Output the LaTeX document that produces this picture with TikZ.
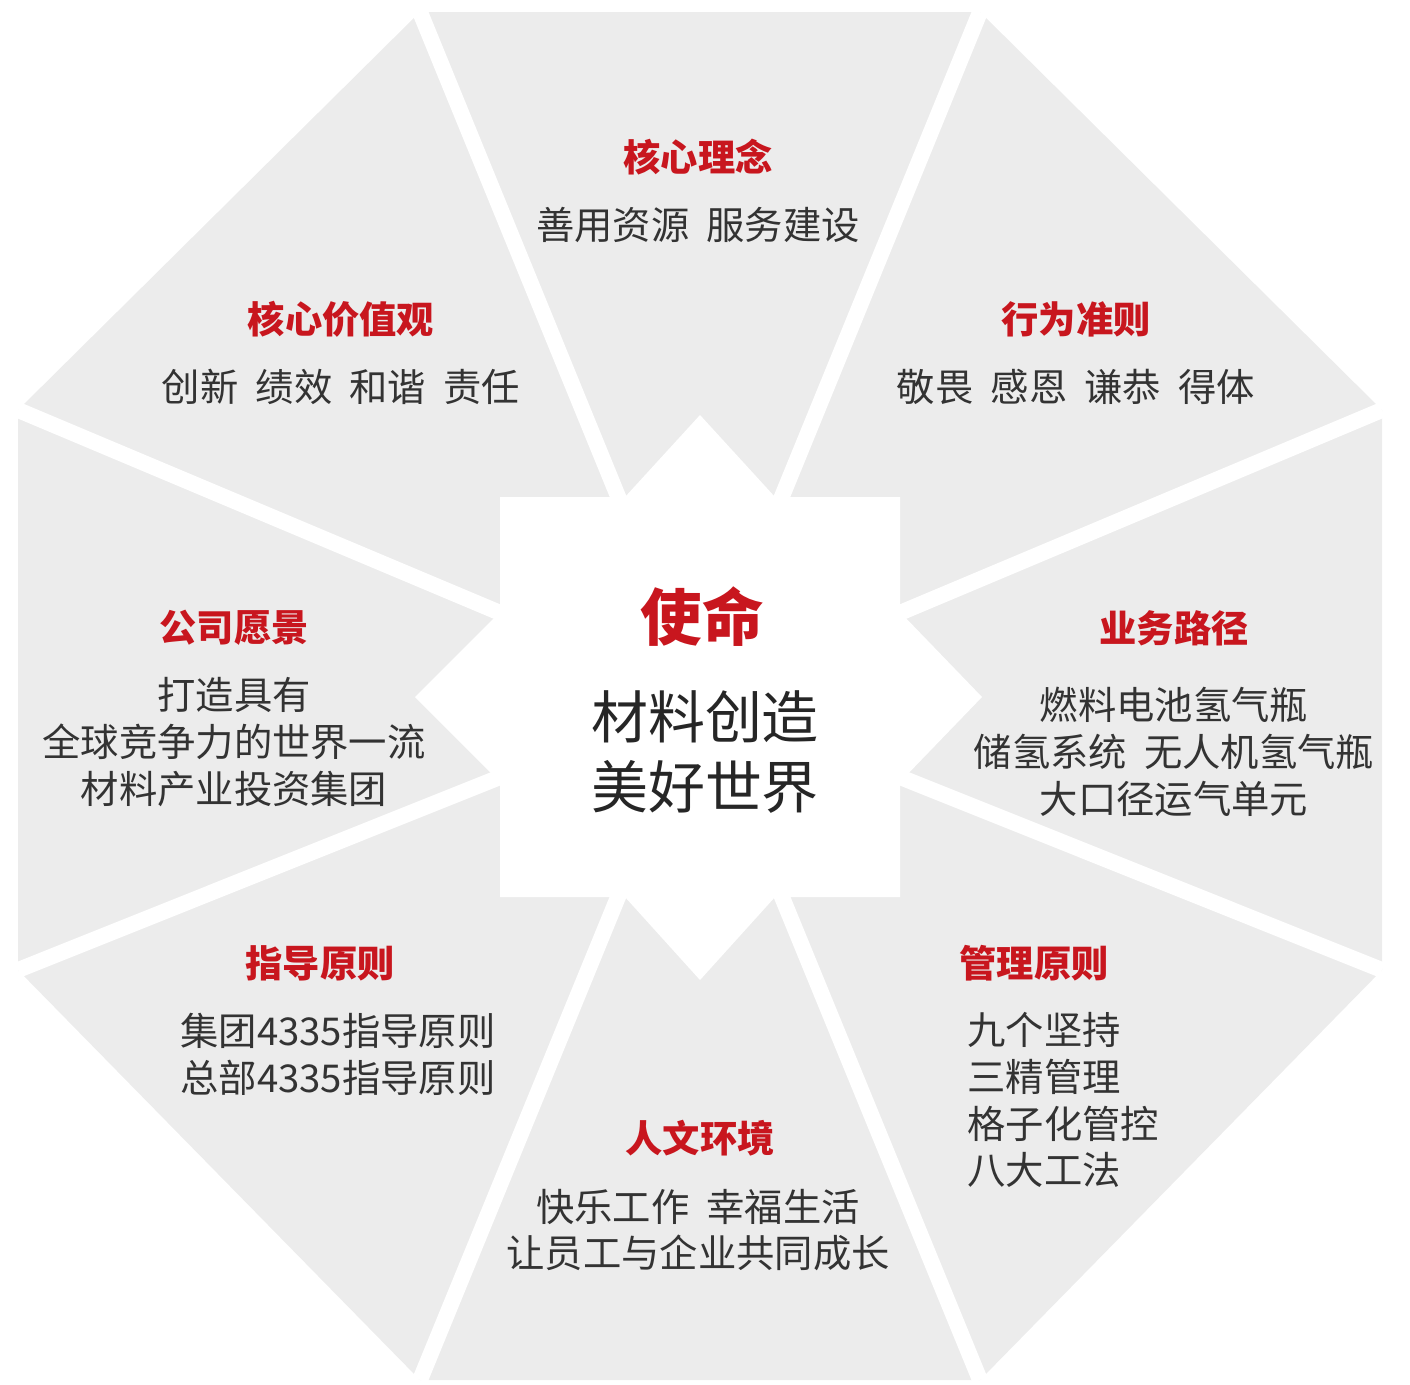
\documentclass[tikz,border=0pt]{standalone}
\usepackage{fontspec}
\setmainfont{Noto Sans CJK SC}
\usepackage{xcolor}
\definecolor{sectgray}{HTML}{ECECEC}
\definecolor{titlered}{HTML}{C8161E}
\definecolor{bodytext}{HTML}{333333}
\tikzset{
  title/.style={text=titlered, font=\fontsize{10.6}{12}\selectfont\bfseries},
  body/.style={text=bodytext, font=\fontsize{10.9}{13.3}\selectfont, align=center},
  bodyleft/.style={text=bodytext, font=\fontsize{10.9}{13.3}\selectfont, align=left, anchor=west}
}
\begin{document}
\begin{tikzpicture}[x=0.01cm, y=-0.01cm]
\useasboundingbox (0,0) rectangle (1410,1384);
% octagon and spokes
\fill[sectgray] (420,12) -- (980,12) -- (1382,410) -- (1382,970) -- (980,1380) -- (420,1380) -- (18,970) -- (18,410) -- cycle;
\coordinate (c) at (700,697);
\foreach \v in {(420,12),(980,12),(1382,410),(1382,970),(980,1380),(420,1380),(18,970),(18,410)}
  \draw[white, line width=4.5pt] (c) -- \v;
% centre star
\fill[white] (500,497) -- (625,497) -- (700,415) -- (775,497) -- (900,497) -- (900,612) -- (982,697) -- (900,782) -- (900,897) -- (775,897) -- (700,980) -- (625,897) -- (500,897) -- (500,782) -- (415,697) -- (500,612) -- cycle;
% centre text
\node[text=titlered, font=\fontsize{17.5}{20}\selectfont\bfseries] (mission) at (702,617) {使命};
\node[text=black!85, font=\fontsize{16.2}{20}\selectfont, align=center] (missiontext) at (705,752) {材料创造\\美好世界};
% sectors
\node[title] (t1) at (698,157) {核心理念};
\node[body] (b1) at (698,225) {善用资源\ \ 服务建设};
\node[title] (t2) at (1076,319) {行为准则};
\node[body] (b2) at (1076,387) {敬畏\ \ 感恩\ \ 谦恭\ \ 得体};
\node[title] (t3) at (1174,628) {业务路径};
\node[body] (b3) at (1174,752) {燃料电池氢气瓶\\储氢系统\ \ 无人机氢气瓶\\大口径运气单元};
\node[title] (t4) at (1034,963) {管理原则};
\node[bodyleft] (b4) at (955,1100) {九个坚持\\三精管理\\格子化管控\\八大工法};
\node[title] (t5) at (700,1138) {人文环境};
\node[body] (b5) at (698,1230) {快乐工作\ \ 幸福生活\\让员工与企业共同成长};
\node[title] (t6) at (320,963) {指导原则};
\node[bodyleft] (b6) at (168,1054) {集团4335指导原则\\总部4335指导原则};
\node[title] (t7) at (234,628) {公司愿景};
\node[body] (b7) at (234,742) {打造具有\\全球竞争力的世界一流\\材料产业投资集团};
\node[title] (t8) at (341,319) {核心价值观};
\node[body] (b8) at (341,387) {创新\ \ 绩效\ \ 和谐\ \ 责任};
\end{tikzpicture}
\end{document}
